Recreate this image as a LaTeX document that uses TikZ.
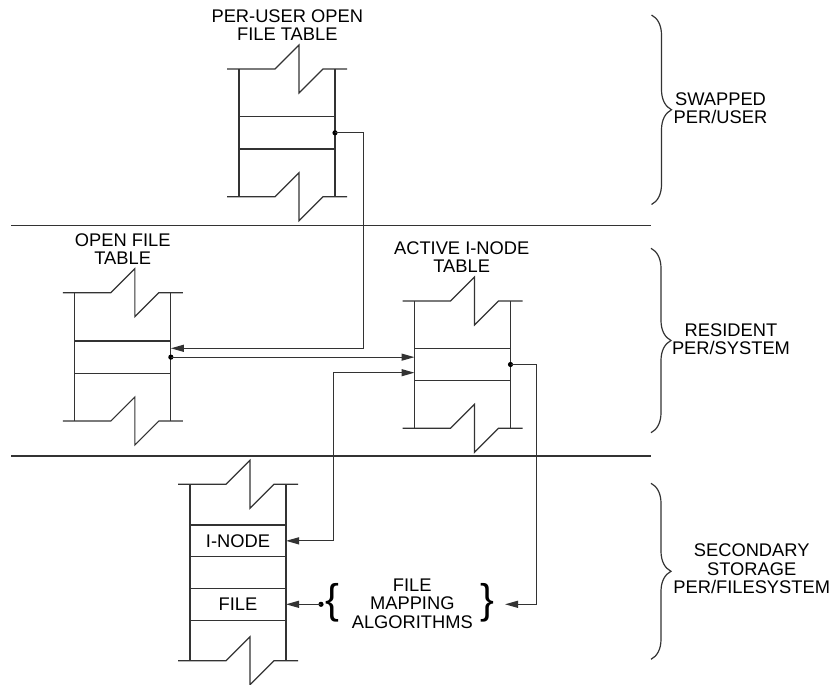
\documentclass[tikz,border=0pt]{standalone}
\usepackage{fontspec}
\setmainfont{Liberation Sans}
\usetikzlibrary{arrows.meta,decorations.pathreplacing,calc}
\tikzset{
  ln/.style={line width=1.2pt, draw=black!80},
  cell/.style={ln, draw, minimum width=96pt, inner sep=0pt, outer sep=0pt, font=\fontsize{18.3}{18.5}\selectfont},
  lbl/.style={font=\fontsize{18.3}{18.5}\selectfont, align=center, inner sep=0pt},
  bracech/.style={font=\fontsize{41.5}{41.5}\selectfont, inner sep=0pt, outer sep=0pt},
  conn/.style={ln, -{Triangle[length=13pt,width=7pt]}},
  dconn/.style={ln, {Triangle[length=13pt,width=7pt]}-{Triangle[length=13pt,width=7pt]}},
  bigbrace/.style={ln, decorate, decoration={brace, amplitude=20pt}},
  brk/.pic={\draw[ln] (-60,0) -- (-12,0) -- (12,-24) -- (12,24) -- (36,0) -- (60,0);}
}
\begin{document}
\begin{tikzpicture}[x=1pt,y=-1pt]
\useasboundingbox (0,0) rectangle (833,685);

% separators
\draw[ln] (11,225.7) -- (650.7,225.7);
\draw[ln] (11,456) -- (650.7,456);

% per-user open file table
\node[lbl] (t1) at (287.3,25) {PER-USER OPEN\\FILE TABLE};
\draw[ln] (239,69) -- (239,196.7) (335,69) -- (335,196.7);
\pic at (287,69) {brk};
\pic at (287,196.7) {brk};
\node[cell, minimum height=32.3pt] (pu) at (287,132.85) {};

% open file table
\node[lbl] (t2) at (122.7,249) {OPEN FILE\\TABLE};
\draw[ln] (74.85,292.7) -- (74.85,421) (170.85,292.7) -- (170.85,421);
\pic at (122.85,292.7) {brk};
\pic at (122.85,421) {brk};
\node[cell, minimum height=32.3pt] (of) at (122.85,357.15) {};

% active i-node table
\node[lbl] (t3) at (461.7,257) {ACTIVE I-NODE\\TABLE};
\draw[ln] (414.5,301) -- (414.5,428.3) (510.5,301) -- (510.5,428.3);
\pic at (462.5,301) {brk};
\pic at (462.5,428.3) {brk};
\node[cell, minimum height=32.4pt] (at) at (462.5,364.5) {};

% secondary storage table
\draw[ln] (190,484.3) -- (190,660.7) (286,484.3) -- (286,660.7);
\pic at (238,484.3) {brk};
\pic at (238,660.7) {brk};
\node[cell, minimum height=31.7pt] (inode) at (238,540.85) {I-NODE};
\node[cell, minimum height=32.4pt] (file) at (238,604.5) {FILE};

% file mapping algorithms
\node[lbl] (fma) at (412.3,603.3) {FILE\\MAPPING\\ALGORITHMS};
\node[bracech] (lb) at (332.5,602.5) {\{};
\node[bracech] (rb) at (487.5,602.5) {\}};

% connectors
\coordinate (b1) at (363.3,0);
\fill (pu.east) circle (2.6);
\draw[conn] (pu.east) -- (pu.east -| b1) |- ($(of.east)+(0,-8.85)$);

\fill (of.east) circle (2.6);
\draw[conn] (of.east) -- (of.east -| at.west);

\coordinate (b2) at (333.3,0);
\draw[dconn] (inode.east) -- (inode.east -| b2) |- ($(at.west)+(0,8.2)$);

\coordinate (b3) at (536.7,0);
\coordinate (rbin) at (505,604.3);
\fill (at.east) circle (2.6);
\draw[conn] (at.east) -- (at.east -| b3) |- (rbin);

\coordinate (fd) at (321,604.3);
\fill (fd) circle (2.6);
\draw[conn] (fd) -- (fd -| file.east);

% region braces
\draw[bigbrace] (651.5,15) -- (651.5,204.5);
\draw[bigbrace] (651,248.3) -- (651,432.7);
\draw[bigbrace] (651,483.3) -- (651,659.3);
\node[lbl] (sw) at (720.5,108) {SWAPPED\\PER/USER};
\node[lbl] (rs) at (731,339) {RESIDENT\\PER/SYSTEM};
\node[lbl] (ss) at (751.7,569) {SECONDARY\\STORAGE\\PER/FILESYSTEM};
\end{tikzpicture}
\end{document}
